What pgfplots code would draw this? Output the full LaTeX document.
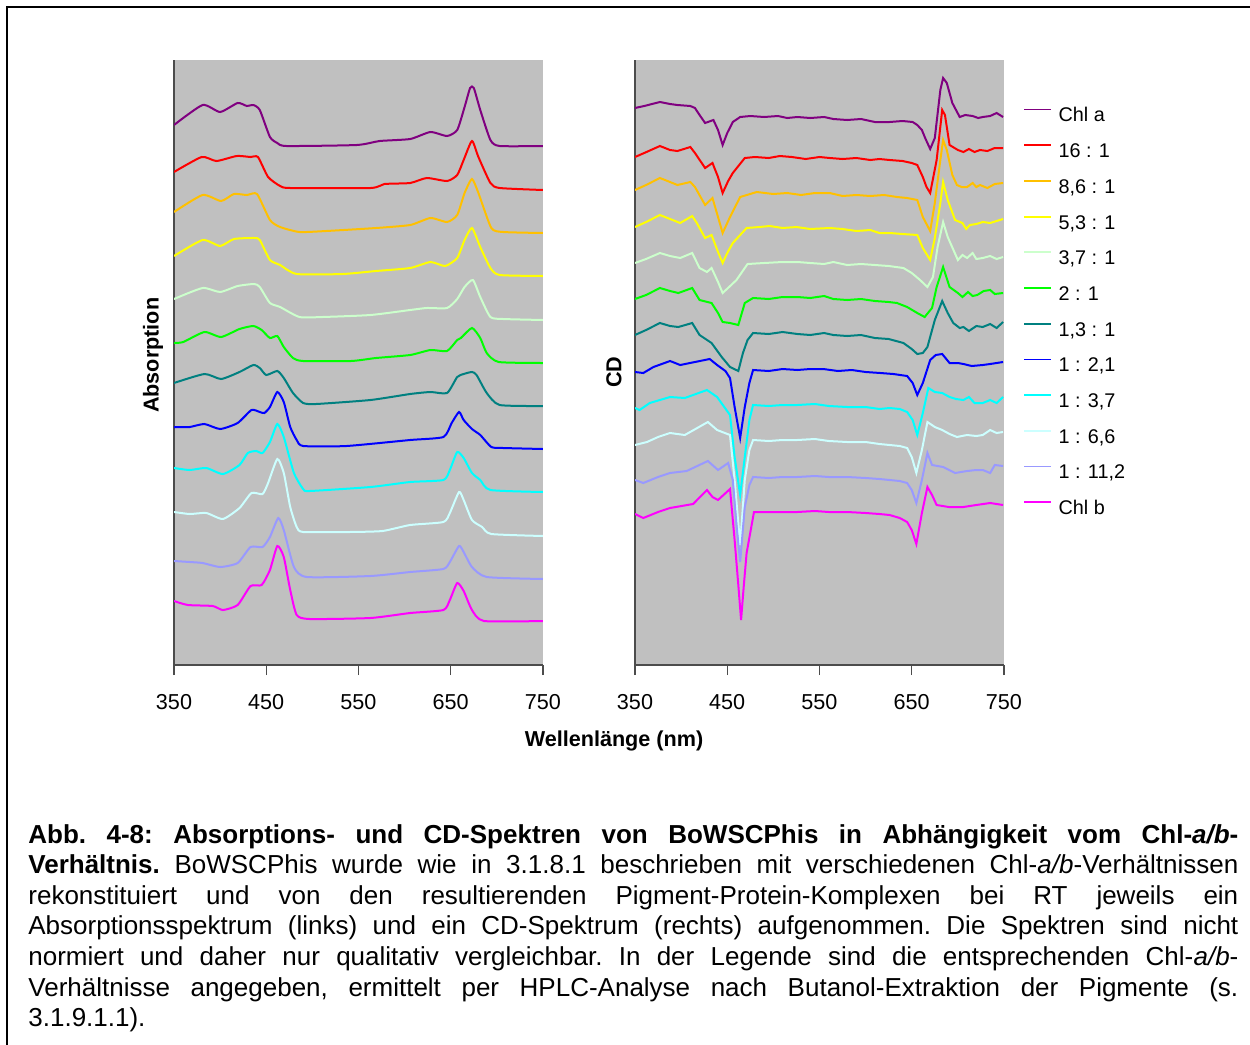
\documentclass[border=0pt]{standalone}
\usepackage{fontspec}
\setmainfont{Liberation Sans}
\usepackage{pgfplots}
\pgfplotsset{compat=1.18}

\definecolor{plotgray}{HTML}{C0C0C0}
\definecolor{cPurple}{HTML}{800080}
\definecolor{cRed}{HTML}{FF0000}
\definecolor{cGold}{HTML}{FFC000}
\definecolor{cYellow}{HTML}{FFFF00}
\definecolor{cLgreen}{HTML}{CCFFCC}
\definecolor{cGreen}{HTML}{00FF00}
\definecolor{cTeal}{HTML}{008080}
\definecolor{cBlue}{HTML}{0000FF}
\definecolor{cCyan}{HTML}{00FFFF}
\definecolor{cLcyan}{HTML}{CCFFFF}
\definecolor{cPeri}{HTML}{9999FF}
\definecolor{cMagenta}{HTML}{FF00FF}

\newcommand{\chartfont}{\fontsize{10.8}{12}\selectfont}
\newcommand{\legfont}{\fontsize{9.9}{11}\selectfont}
\newcommand{\capfont}{\fontsize{13}{15}\selectfont\frenchspacing}

\pgfplotsset{
  spectrum/.style={
    scale only axis, width=184.5pt, height=302.5pt,
    xmin=350, xmax=750, ymin=0, ymax=605,
    axis background/.style={fill=plotgray},
    axis lines*=left,
    axis line style={line width=1pt, draw=black!70},
    xtick={350,450,550,650,750}, ytick=\empty,
    tick align=outside, major tick length=5pt,
    tick style={line width=0.6pt, draw=black!70},
    xticklabel style={font=\chartfont, yshift=-6pt},
    /pgf/number format/assume math mode=true,
    /pgf/number format/1000 sep={},
    no markers,
    every axis plot/.append style={line width=1pt},
  }
}

\begin{document}
\begin{tikzpicture}
\useasboundingbox (0,0) rectangle (625pt,-522.5pt);
\draw[line width=1pt] (3.5pt,-522.5pt) -- (3.5pt,-3.5pt) -- (625pt,-3.5pt);

% ---------- Absorption ----------
\begin{axis}[spectrum, at={(87pt,-332.5pt)}, anchor=south west,
  every axis plot/.append style={smooth, tension=0.35},
  ylabel={\bfseries Absorption},
  every axis y label/.style={at={(rel axis cs:0,0.512)}, rotate=90, anchor=center, yshift=10.5pt, font=\chartfont}]
\addplot[cPurple] coordinates {(350,540)(381,560)(400,553)(419,562)(429,559)(436,560)(443,555)(454,528)(462,522)(472,519)(548,520)(573,524)(606,526)(628,533)(646,529)(657,535)(665,558)(671,577)(675,577)(682,555)(693,525)(703,519)(750,519)};
\addplot[cRed] coordinates {(350,493)(380,508)(396,504)(418,509)(433,508)(441,508)(452,488)(465,479)(476,477)(563,477)(578,481)(606,482)(624,487)(646,484)(657,490)(664,505)(673,524)(680,508)(693,482)(703,477)(750,475)};
\addplot[cGold] coordinates {(350,453)(381,470)(401,464)(415,471)(429,470)(440,471)(454,445)(465,438)(486,433)(515,434)(569,437)(606,440)(628,447)(646,443)(657,450)(665,472)(673,486)(680,472)(694,437)(707,433)(750,432)};
\addplot[cYellow] coordinates {(350,409)(381,425)(400,419)(415,426)(437,427)(443,425)(454,405)(465,400)(483,391)(533,391)(569,394)(606,397)(628,403)(644,399)(657,407)(665,425)(673,437)(682,418)(693,397)(703,390)(750,389)};
\addplot[cLgreen] coordinates {(350,366)(381,377)(400,373)(419,379)(437,381)(443,378)(454,362)(465,358)(486,348)(511,348)(563,350)(606,355)(624,357)(646,357)(657,366)(665,378)(674,385)(682,368)(693,348)(707,346)(750,345)};
\addplot[cGreen] coordinates {(350,322)(360,323)(383,333)(401,328)(421,336)(436,339)(445,335)(454,327)(462,329)(469,318)(479,307)(490,304)(542,304)(569,307)(606,310)(628,315)(646,314)(657,325)(661,327)(673,337)(682,327)(689,312)(702,303)(750,302)};
\addplot[cTeal] coordinates {(350,282)(383,291)(401,286)(421,293)(436,300)(443,297)(450,290)(462,294)(469,287)(479,272)(490,262)(504,261)(563,265)(606,271)(628,273)(646,272)(657,288)(664,291)(673,293)(678,290)(689,272)(703,260)(750,259)};
\addplot[cBlue] coordinates {(350,238)(367,238)(383,241)(400,236)(419,242)(434,255)(443,253)(448,252)(454,258)(462,273)(469,263)(476,238)(483,225)(490,219)(537,219)(606,225)(642,228)(651,242)(659,253)(664,245)(673,236)(682,230)(694,218)(707,217)(750,216)};
\addplot[cCyan] coordinates {(350,197)(367,195)(385,197)(403,191)(421,200)(430,212)(439,214)(446,212)(454,223)(462,241)(469,228)(480,192)(490,176)(497,174)(563,178)(606,183)(642,185)(649,195)(657,213)(664,207)(673,192)(682,185)(693,175)(750,173)};
\addplot[cLcyan] coordinates {(350,153)(367,151)(385,152)(403,146)(421,157)(434,172)(446,171)(452,182)(462,206)(469,192)(476,158)(483,138)(490,133)(540,133)(576,134)(606,140)(642,143)(649,152)(659,173)(664,165)(673,145)(684,138)(694,131)(750,129)};
\addplot[cPeri] coordinates {(350,104)(367,103)(381,102)(400,98)(419,102)(433,118)(446,118)(454,128)(463,147)(469,135)(480,98)(494,88)(563,89)(606,93)(642,96)(649,103)(659,119)(664,113)(673,98)(689,88)(750,86)};
\addplot[cMagenta] coordinates {(350,64)(365,60)(392,59)(403,55)(419,60)(433,79)(445,80)(454,95)(462,119)(469,108)(476,75)(483,50)(497,46)(563,47)(606,52)(642,55)(649,65)(657,82)(664,74)(673,55)(686,44)(750,44)};
\end{axis}

% ---------- CD ----------
\begin{axis}[spectrum, at={(317.5pt,-332.5pt)}, anchor=south west,
  ylabel={\bfseries CD},
  every axis y label/.style={at={(rel axis cs:0,0.484)}, rotate=90, anchor=center, yshift=10.5pt, font=\chartfont},
  legend style={at={(1.0515,0.923)}, anchor=north west, draw=none, fill=none,
    font=\legfont, inner sep=0pt, row sep=8.05pt, column sep=3.2pt,
    nodes={inner sep=0pt, text height=7.5pt, text depth=2.3pt}},
  legend cell align=left,
  legend image code/.code={\draw[#1, line width=0.9pt] (0pt,3.6pt) -- (13.5pt,3.6pt);}]
\addplot[cPurple] coordinates {(350,557)(360,559)(377,563)(388,561)(396,560)(410,559)(415,557)(420,550)(426,542)(435,545)(440,535)(445,520)(450,532)(456,543)(464,548)(475,549)(490,548)(505,549)(515,547)(526,548)(540,547)(555,548)(565,546)(580,545)(595,546)(610,543)(626,543)(640,544)(651,543)(656,540)(661,535)(665,526)(670,516)(675,527)(681,575)(684,587)(688,582)(694,562)(702,548)(708,550)(716,549)(722,547)(727,548)(735,549)(742,552)(749,548)};
\addlegendentry{Chl a}
\addplot[cRed] coordinates {(350,508)(360,512)(377,519)(388,515)(396,514)(410,518)(415,512)(426,497)(434,502)(440,488)(445,472)(451,484)(456,492)(469,507)(480,508)(495,507)(507,509)(520,508)(535,506)(550,508)(561,507)(575,506)(590,507)(605,505)(615,506)(626,505)(640,504)(650,502)(656,500)(662,488)(666,478)(670,472)(677,505)(683,555)(686,550)(691,520)(700,515)(706,513)(712,516)(718,513)(724,515)(732,514)(740,517)(749,517)};
\addlegendentry{16 : 1}
\addplot[cGold] coordinates {(350,475)(362,480)(377,487)(388,483)(396,480)(410,483)(415,478)(426,460)(434,467)(440,448)(445,432)(453,448)(464,468)(482,473)(500,471)(515,472)(530,470)(545,472)(561,472)(575,469)(590,470)(605,469)(620,470)(634,468)(645,467)(656,465)(662,448)(670,434)(675,462)(681,505)(684,525)(688,515)(694,490)(699,480)(704,478)(710,478)(716,482)(720,478)(724,480)(732,477)(740,481)(749,482)};
\addlegendentry{8,6 : 1}
\addplot[cYellow] coordinates {(350,438)(362,443)(377,450)(388,446)(399,442)(412,449)(417,442)(426,427)(433,430)(440,413)(445,402)(450,412)(456,422)(471,437)(485,438)(496,439)(510,437)(525,438)(540,436)(561,437)(575,436)(590,434)(605,435)(615,432)(626,432)(640,431)(656,430)(662,417)(670,405)(675,427)(681,462)(684,483)(689,465)(697,445)(705,442)(709,436)(713,440)(720,441)(727,443)(735,442)(742,444)(749,446)};
\addlegendentry{5,3 : 1}
\addplot[cLgreen] coordinates {(350,402)(362,406)(377,412)(388,409)(399,407)(412,412)(420,397)(428,393)(433,397)(440,383)(445,372)(452,378)(460,385)(472,401)(490,402)(510,403)(526,403)(540,402)(555,401)(565,403)(580,400)(595,401)(610,400)(625,399)(641,397)(650,392)(659,385)(667,378)(673,388)(678,418)(684,443)(689,428)(700,405)(705,410)(710,407)(716,412)(720,406)(727,407)(735,409)(742,406)(749,408)};
\addlegendentry{3,7 : 1}
\addplot[cGreen] coordinates {(350,366)(362,370)(377,377)(388,374)(397,372)(412,377)(420,365)(433,362)(440,352)(445,343)(453,342)(462,340)(469,362)(478,367)(495,366)(510,368)(526,368)(540,367)(555,369)(565,366)(580,365)(595,366)(610,364)(625,363)(634,362)(645,358)(656,352)(664,348)(672,357)(677,378)(684,398)(691,378)(700,372)(705,368)(711,373)(716,369)(721,370)(728,374)(735,375)(740,371)(749,372)};
\addlegendentry{2 : 1}
\addplot[cTeal] coordinates {(350,330)(362,335)(377,342)(388,339)(397,338)(412,342)(420,330)(433,322)(444,308)(453,298)(462,294)(467,312)(472,325)(478,332)(495,331)(510,333)(526,331)(540,330)(555,332)(565,330)(580,329)(595,330)(610,327)(625,326)(641,322)(650,316)(656,311)(662,312)(667,318)(675,345)(683,364)(689,352)(695,342)(702,337)(706,338)(712,334)(720,339)(727,338)(735,341)(742,337)(749,343)};
\addlegendentry{1,3 : 1}
\addplot[cBlue] coordinates {(350,293)(359,292)(370,298)(388,304)(399,300)(415,303)(431,306)(439,300)(448,294)(453,287)(458,258)(464,227)(469,258)(474,282)(478,295)(495,294)(510,296)(526,295)(540,296)(554,296)(570,294)(585,295)(600,293)(616,292)(630,291)(645,289)(651,282)(656,270)(662,282)(670,305)(676,310)(683,311)(691,302)(700,302)(706,301)(715,299)(727,300)(735,301)(742,302)(749,303)};
\addlegendentry{1 : 2,1}
\addplot[cCyan] coordinates {(350,257)(355,255)(366,262)(388,268)(404,267)(428,275)(439,268)(453,250)(458,208)(464,170)(469,208)(474,245)(478,260)(495,259)(510,260)(526,260)(545,261)(560,259)(580,258)(600,258)(615,256)(626,257)(637,256)(645,253)(651,245)(656,230)(662,252)(668,277)(675,273)(683,272)(691,268)(698,266)(706,265)(712,268)(718,262)(727,262)(735,265)(742,262)(749,268)};
\addlegendentry{1 : 3,7}
\addplot[cLcyan] coordinates {(350,220)(363,223)(375,228)(388,232)(404,230)(429,243)(439,235)(453,230)(458,185)(464,120)(469,185)(474,215)(478,225)(495,224)(510,225)(526,225)(545,226)(560,224)(580,223)(600,223)(615,221)(626,220)(637,219)(645,217)(650,208)(655,192)(661,215)(667,243)(675,238)(683,235)(691,231)(699,228)(710,230)(720,229)(727,230)(735,235)(742,232)(749,233)};
\addlegendentry{1 : 6,6}
\addplot[cPeri] coordinates {(350,185)(359,182)(375,188)(388,192)(406,194)(429,204)(440,195)(451,202)(456,185)(460,140)(464,103)(469,158)(474,180)(478,188)(495,187)(510,188)(526,188)(545,189)(560,188)(580,188)(600,187)(615,186)(626,185)(637,184)(645,182)(650,175)(655,162)(661,185)(667,212)(672,200)(684,198)(697,192)(710,194)(720,195)(727,195)(735,192)(740,200)(749,199)};
\addlegendentry{1 : 11,2}
\addplot[cMagenta] coordinates {(350,151)(359,147)(375,153)(388,157)(413,161)(428,175)(434,168)(440,165)(453,176)(458,125)(462,80)(465,45)(468,80)(471,112)(479,153)(495,153)(510,153)(526,153)(545,154)(560,153)(580,153)(600,152)(615,151)(626,150)(637,147)(645,143)(650,135)(655,121)(661,152)(667,178)(672,170)(677,160)(690,158)(706,158)(720,160)(735,162)(749,160)};
\addlegendentry{Chl b}
\end{axis}

\node[font=\chartfont\bfseries] at (307pt,-370.5pt) {Wellenlänge (nm)};

% ---------- caption ----------
\begin{scope}[every node/.style={anchor=base west, inner sep=0pt, font=\capfont}]
\node at (14pt,-421.5pt) {\makebox[605pt][s]{\bfseries Abb. 4-8: Absorptions- und CD-Spektren von BoWSCPhis in Abhängigkeit vom Chl-\textit{a/b}-}};
\node at (14pt,-436.8pt) {\makebox[605pt][s]{\textbf{Verhältnis.} BoWSCPhis wurde wie in 3.1.8.1 beschrieben mit verschiedenen Chl-\textit{a/b}-Verhältnissen}};
\node at (14pt,-452.1pt) {\makebox[605pt][s]{rekonstituiert und von den resultierenden Pigment-Protein-Komplexen bei RT jeweils ein}};
\node at (14pt,-467.4pt) {\makebox[605pt][s]{Absorptionsspektrum (links) und ein CD-Spektrum (rechts) aufgenommen. Die Spektren sind nicht}};
\node at (14pt,-482.7pt) {\makebox[605pt][s]{normiert und daher nur qualitativ vergleichbar. In der Legende sind die entsprechenden Chl-\textit{a/b}-}};
\node at (14pt,-498.0pt) {\makebox[605pt][s]{Verhältnisse angegeben, ermittelt per HPLC-Analyse nach Butanol-Extraktion der Pigmente (s.}};
\node at (14pt,-513.3pt) {3.1.9.1.1).};
\end{scope}
\end{tikzpicture}
\end{document}
